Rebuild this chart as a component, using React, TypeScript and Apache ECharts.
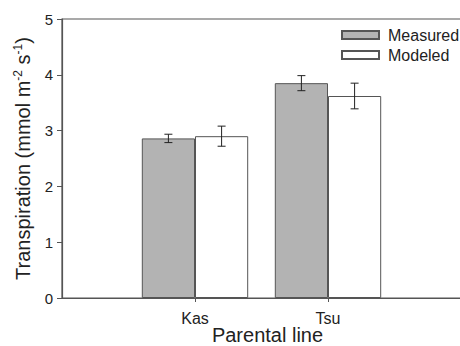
import React, { useEffect, useRef } from "react";
import * as echarts from "echarts";

const categories = ["Kas", "Tsu"];
const measured = [2.86, 3.85];
const measuredErr = [0.075, 0.135];
const modeled = [2.9, 3.62];
const modeledErr = [0.18, 0.23];
const yTicks = [0, 1, 2, 3, 4, 5];

const axisCats = ["", ...categories, ""];
const FONT = "Liberation Sans, Arial, sans-serif";

export default function App() {
  const ref = useRef<HTMLDivElement>(null);
  useEffect(() => {
    if (!ref.current) return;
    const chart = echarts.init(ref.current, null, { renderer: "svg" });
    const pad = (arr: number[]) => ["-", ...arr, "-"];
    const errData = (vals: number[], errs: number[]) =>
      vals.map((v, i) => [i + 1, v - errs[i], v + errs[i]]);
    const errSeries = (name: string, vals: number[], errs: number[], side: number) => ({
      type: "custom",
      name: name + "err",
      data: errData(vals, errs),
      encode: { x: 0, y: [1, 2] },
      z: 5,
      silent: true,
      renderItem: (params: any, api: any) => {
        const bw = api.size([1, 0])[0];
        const lo = api.coord([api.value(0), api.value(1)]);
        const hi = api.coord([api.value(0), api.value(2)]);
        const x = lo[0] + side * bw * 0.2;
        const cap = 4;
        const style = { stroke: "#222", lineWidth: 1 };
        return {
          type: "group",
          children: [
            { type: "line", shape: { x1: x, y1: lo[1], x2: x, y2: hi[1] }, style },
            { type: "line", shape: { x1: x - cap, y1: lo[1], x2: x + cap, y2: lo[1] }, style },
            { type: "line", shape: { x1: x - cap, y1: hi[1], x2: x + cap, y2: hi[1] }, style },
          ],
        };
      },
    });
    const lineColor = "#555";
    chart.setOption({
      animation: false,
      backgroundColor: "#fff",
      textStyle: { fontFamily: FONT },
      grid: {
        left: 62,
        right: -1,
        top: 19,
        bottom: 48,
        outerBoundsMode: "none",
        containLabel: false,
        show: true,
        borderColor: lineColor,
        borderWidth: 1.2,
      },
      legend: {
        orient: "vertical",
        left: 341,
        top: 27,
        padding: 0,
        icon: "rect",
        itemWidth: 37,
        itemHeight: 8,
        itemGap: 4,
        data: ["Measured", "Modeled"],
        textStyle: { fontSize: 16, color: "#222", padding: [0, 0, 0, 4] },
      },
      xAxis: {
        type: "category",
        data: axisCats,
        boundaryGap: false,
        name: "Parental line",
        nameLocation: "middle",
        nameGap: 27,
        nameMoveOverlap: false,
        nameTextStyle: { fontSize: 20, color: "#222", padding: [0, 0, 0, 12] },
        axisLine: { lineStyle: { color: lineColor, width: 1.2 } },
        axisTick: {
          inside: false,
          length: 4,
          interval: (i: number) => i === 1 || i === 2,
          lineStyle: { color: lineColor },
        },
        axisLabel: { fontSize: 16, color: "#222", margin: 12, interval: 0 },
        splitLine: { show: false },
      },
      yAxis: {
        type: "value",
        min: 0,
        max: 5,
        interval: 1,
        name: "{a|Transpiration (mmol m}{s|-2}{a| s}{s|-1}{a|)}",
        nameLocation: "middle",
        nameGap: 28,
        nameMoveOverlap: false,
        nameTextStyle: {
          color: "#222",
          rich: {
            a: { fontSize: 20, color: "#222", fontFamily: FONT },
            s: { fontSize: 12, color: "#222", padding: [0, 0, 10, 0], fontFamily: FONT },
          },
        },
        axisLine: { show: true, lineStyle: { color: lineColor, width: 1.2 } },
        axisTick: { show: true, inside: false, length: 5, lineStyle: { color: lineColor } },
        axisLabel: {
          fontSize: 15,
          color: "#222",
          margin: 9,
          formatter: (v: number) => (yTicks.includes(v) ? String(v) : ""),
        },
        splitLine: { show: false },
      },
      series: [
        {
          type: "bar",
          name: "Measured",
          data: pad(measured),
          barWidth: "40%",
          barGap: "0%",
          itemStyle: { color: "#b3b3b3", borderColor: "#555", borderWidth: 1 },
        },
        {
          type: "bar",
          name: "Modeled",
          data: pad(modeled),
          barWidth: "40%",
          barGap: "0%",
          itemStyle: { color: "#ffffff", borderColor: "#555", borderWidth: 1 },
        },
        errSeries("Measured", measured, measuredErr, -1),
        errSeries("Modeled", modeled, modeledErr, 1),
      ],
    });
    return () => chart.dispose();
  }, []);
  return (
    <div
      ref={ref}
      style={{ position: "absolute", left: 0, top: 0, width: 460, height: 346 }}
    />
  );
}
